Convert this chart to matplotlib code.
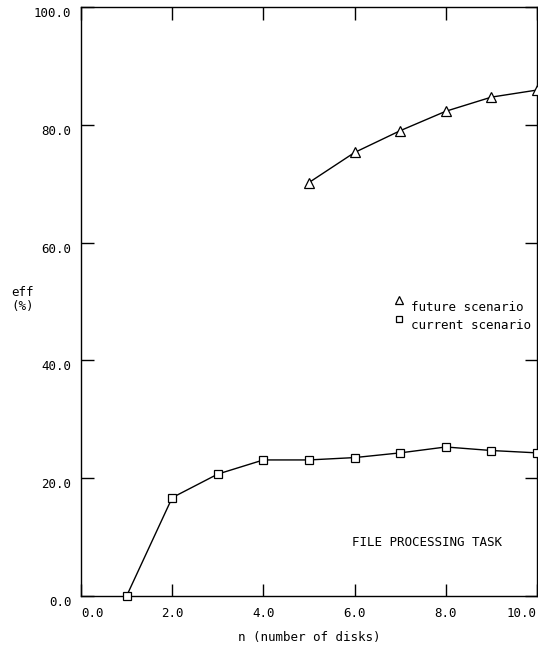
import matplotlib
matplotlib.use('Agg')
import matplotlib.pyplot as plt

# data
n_current = [1, 2, 3, 4, 5, 6, 7, 8, 9, 10]
eff_current = [0.0, 16.7, 20.7, 23.1, 23.1, 23.5, 24.3, 25.3, 24.7, 24.3]
n_future = [5, 6, 7, 8, 9, 10]
eff_future = [70.2, 75.3, 79.0, 82.3, 84.7, 85.9]

xticks = [0, 2, 4, 6, 8, 10]
yticks = [0, 20, 40, 60, 80, 100]

plt.rcParams['font.family'] = 'DejaVu Sans Mono'
plt.rcParams['font.size'] = 9

fig = plt.figure(figsize=(5.38, 6.47), dpi=100)
ax = fig.add_axes([81 / 538, 51 / 647, 456 / 538, 589 / 647])

ax.plot(n_current, eff_current, color='black', lw=1.0, marker='s', ms=5.5,
        mfc='white', mec='black', mew=0.9, clip_on=False, zorder=3)
ax.plot(n_future, eff_future, color='black', lw=1.0, marker='^', ms=6.5,
        mfc='white', mec='black', mew=0.9, clip_on=False, zorder=3)

ax.set_xlim(0, 10)
ax.set_ylim(0, 100)
ax.set_xticks(xticks)
ax.set_yticks(yticks)
ax.set_xticklabels(['%.1f' % v for v in xticks])
ax.set_yticklabels(['%.1f' % v for v in yticks], va='top')
ax.tick_params(direction='in', length=9, width=1.0, top=True, right=True)
ax.tick_params(axis='x', pad=8)
ax.tick_params(axis='y', pad=7)
xl = ax.get_xticklabels()
xl[0].set_ha('left')
xl[-1].set_ha('right')
for s in ax.spines.values():
    s.set_linewidth(1.0)

ax.set_xlabel('n (number of disks)', labelpad=8)
fig.text(11 / 538, 1 - 300 / 647, 'eff\n(%)', ha='left', va='center',
         multialignment='left', fontsize=9, linespacing=1.1)

# legend drawn by hand, like the plotter output
ax.plot([6.98], [50.2], marker='^', ms=5.5, mfc='white', mec='black',
        mew=0.9, ls='none', clip_on=False)
ax.plot([6.98], [47.0], marker='s', ms=5, mfc='white', mec='black',
        mew=0.9, ls='none', clip_on=False)
ax.text(7.23, 49.0, 'future scenario', fontsize=9, va='center')
ax.text(7.23, 46.0, 'current scenario', fontsize=9, va='center')

ax.text(5.95, 9.0, 'FILE PROCESSING TASK', fontsize=9, va='center')

fig.savefig('out.png', dpi=100)
